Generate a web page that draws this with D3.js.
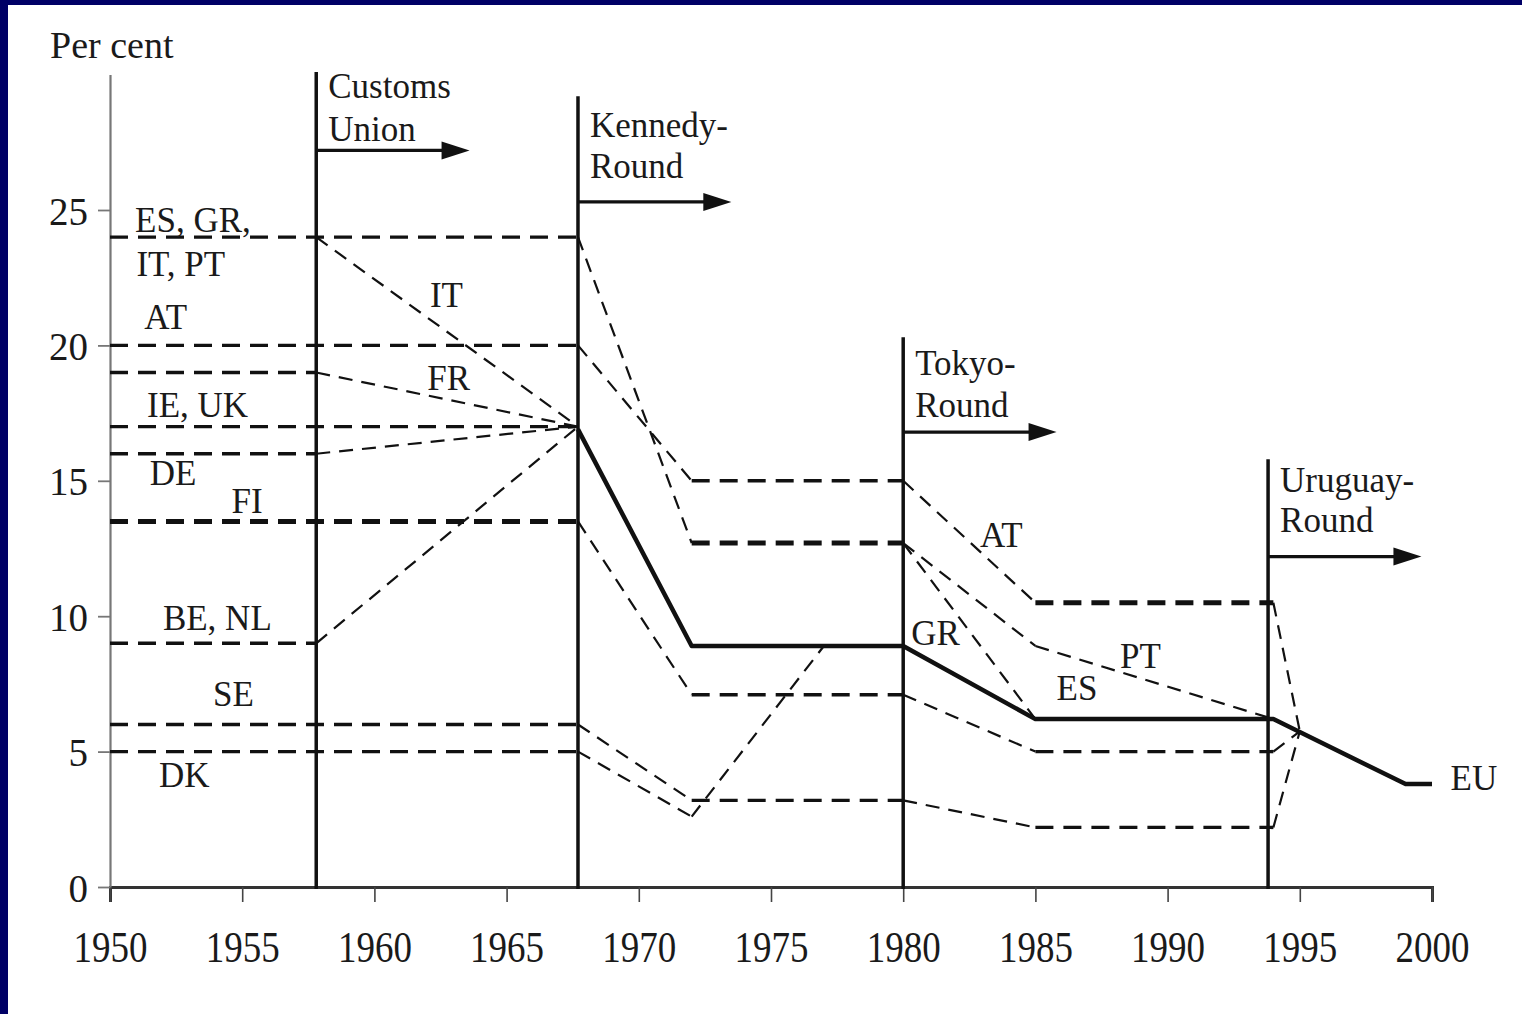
<!DOCTYPE html>
<html>
<head>
<meta charset="utf-8">
<script src="https://cdn.jsdelivr.net/npm/d3@7"></script>
<style>
body{margin:0;background:#000066;}
text{font-family:"Liberation Serif","Times New Roman",serif;fill:#1a1a1a;}
</style>
</head>
<body>
<div class="chart"></div>
<script>
// tariff paths, [year, per cent]
const esGrPt=[[1950,24],[1967.7,24],[1972,12.7],[1980,12.7]]
const gr=[[1980,12.7],[1985,6.2]]
const esPt=[[1980,12.7],[1985,8.9],[1994,6.2]]
const it=[[1957.8,24],[1967.7,17]]
const at=[[1950,20],[1967.7,20],[1972,15],[1980,15],[1985,10.5],[1994,10.5],[1995,5.75]]
const fr=[[1950,19],[1957.8,19],[1967.7,17]]
const ieUk=[[1950,17],[1967.7,17]]
const de=[[1950,16],[1957.8,16],[1967.7,17]]
const fi=[[1950,13.5],[1967.7,13.5],[1972,7.1],[1980,7.1],[1985,5],[1994,5],[1995,5.75]]
const beNl=[[1950,9],[1957.8,9],[1967.7,17]]
const se=[[1950,6],[1967.7,6],[1972,3.2],[1980,3.2],[1985,2.2],[1994,2.2],[1995,5.75]]
const dk=[[1950,5],[1967.7,5],[1972,2.6],[1977,8.9]]
const eu=[[1967.7,16.9],[1972,8.9],[1980,8.9],[1985,6.2],[1994,6.2],[1999,3.8],[2000,3.8]]

const countries=[esGrPt,gr,esPt,it,at,fr,ieUk,de,fi,beNl,se,dk]

// trade rounds
const roundNames=[['Customs','Union'],['Kennedy-','Round'],['Tokyo-','Round'],['Uruguay-','Round']]
const roundYears=[1957.8,1967.7,1980,1993.8]
const roundTops=[30.1,29.2,20.3,15.8]
const roundArrows=[27.2,25.3,16.8,12.2]
const roundLabelLevels=[[29.15,27.55],[27.7,26.2],[18.9,17.35],[14.6,13.1]]

// labels [text, year, per cent]
const labels=[
	['ES, GR,',1950.95,24.2],['IT, PT',1951.0,22.55],['AT',1951.3,20.6],
	['IE, UK',1951.4,17.35],['DE',1951.5,14.85],['FI',1954.6,13.8],
	['BE, NL',1952.0,9.5],['SE',1953.9,6.7],['DK',1951.85,3.7],
	['IT',1962.1,21.4],['FR',1962.0,18.35],['AT',1982.9,12.55],
	['GR',1980.3,8.95],['ES',1985.8,6.9],['PT',1988.2,8.1],['EU',2000.7,3.6]
]

const xTicks=d3.range(1950,2001,5)
const yTicks=[0,5,10,15,20,25]

const W=1522,H=1014
const svg=d3.select('.chart').append('svg')
	.attr('width',W).attr('height',H)
	.style('display','block')

svg.append('rect').attr('width',W).attr('height',H).attr('fill','#000066')
svg.append('rect').attr('x',8).attr('y',5).attr('width',W-8).attr('height',H-5).attr('fill','#fff')

let x=d3.scaleLinear().domain([1950,2000]).range([110,1432])
let y=d3.scaleLinear().domain([0,30]).range([887,74.6])

// axes
const xAxis=d3.axisBottom(x).tickValues(xTicks).tickSize(15).tickFormat(d3.format('d'))
const gx=svg.append('g').attr('transform',`translate(0,${y(0)})`).call(xAxis)
gx.select('.domain').attr('stroke','#333').attr('stroke-width',3)
gx.selectAll('.tick line').attr('stroke','#444').attr('stroke-width',1.6)
gx.selectAll('.tick text')
	.attr('font-size',37).attr('fill','#1a1a1a')
	.attr('y',75/1.22).attr('dy',0)
	.attr('transform','scale(1,1.22)')

const yAxis=d3.axisLeft(y).tickValues(yTicks).tickSize(12).tickSizeOuter(0)
const gy=svg.append('g').attr('transform',`translate(${x(1950)},0)`).call(yAxis)
gy.select('.domain').attr('stroke','#777').attr('stroke-width',2.2)
gy.selectAll('.tick line').attr('stroke','#777').attr('stroke-width',1.8)
gy.selectAll('.tick text')
	.attr('font-size',39).attr('fill','#1a1a1a')
	.attr('x',-22).attr('dy',14)

svg.append('text').attr('x',50).attr('y',58).attr('font-size',38).text('Per cent')

// dashed country lines, one segment at a time
const heavy=v=>[13.5,12.7,10.5].includes(v)
const segs=[]
countries.forEach(p=>{
	for(let i=1;i<p.length;i++) segs.push([p[i-1],p[i]])
})
svg.append('g').selectAll('line')
	.data(segs).enter().append('line')
	.attr('x1',d=>x(d[0][0])).attr('y1',d=>y(d[0][1]))
	.attr('x2',d=>x(d[1][0])).attr('y2',d=>y(d[1][1]))
	.attr('stroke','#111')
	.attr('stroke-width',d=>{
		if(d[0][1]!==d[1][1]) return 2.2
		return heavy(d[0][1])?5:3.4
	})
	.attr('stroke-dasharray',d=>d[0][1]!==d[1][1]?'14,9':'18,10')

// round lines + arrows
const rg=svg.append('g')
roundYears.forEach((yr,i)=>{
	rg.append('line')
		.attr('x1',x(yr)).attr('x2',x(yr))
		.attr('y1',y(roundTops[i])).attr('y2',y(0)+2)
		.attr('stroke','#111').attr('stroke-width',3.5)
	const ay=y(roundArrows[i]),x0=x(yr),x1=x(yr+5.8)
	rg.append('line').attr('x1',x0).attr('x2',x1-20).attr('y1',ay).attr('y2',ay)
		.attr('stroke','#111').attr('stroke-width',3.2)
	rg.append('path')
		.attr('d',`M${x1},${ay}L${x1-28},${ay-9}L${x1-28},${ay+9}Z`)
		.attr('fill','#111')
	roundNames[i].forEach((t,j)=>{
		rg.append('text').attr('x',x0+12).attr('y',y(roundLabelLevels[i][j]))
			.attr('font-size',35).text(t)
	})
})

// EU line
svg.append('path').datum(eu)
	.attr('d',d3.line().x(d=>x(d[0])).y(d=>y(d[1])))
	.attr('fill','none').attr('stroke','#111').attr('stroke-width',4.5)
	.attr('stroke-linejoin','round')

svg.append('g').selectAll('text')
	.data(labels).enter().append('text')
	.attr('x',d=>x(d[1])).attr('y',d=>y(d[2]))
	.attr('font-size',35)
	.text(d=>d[0])
</script>
</body>
</html>
